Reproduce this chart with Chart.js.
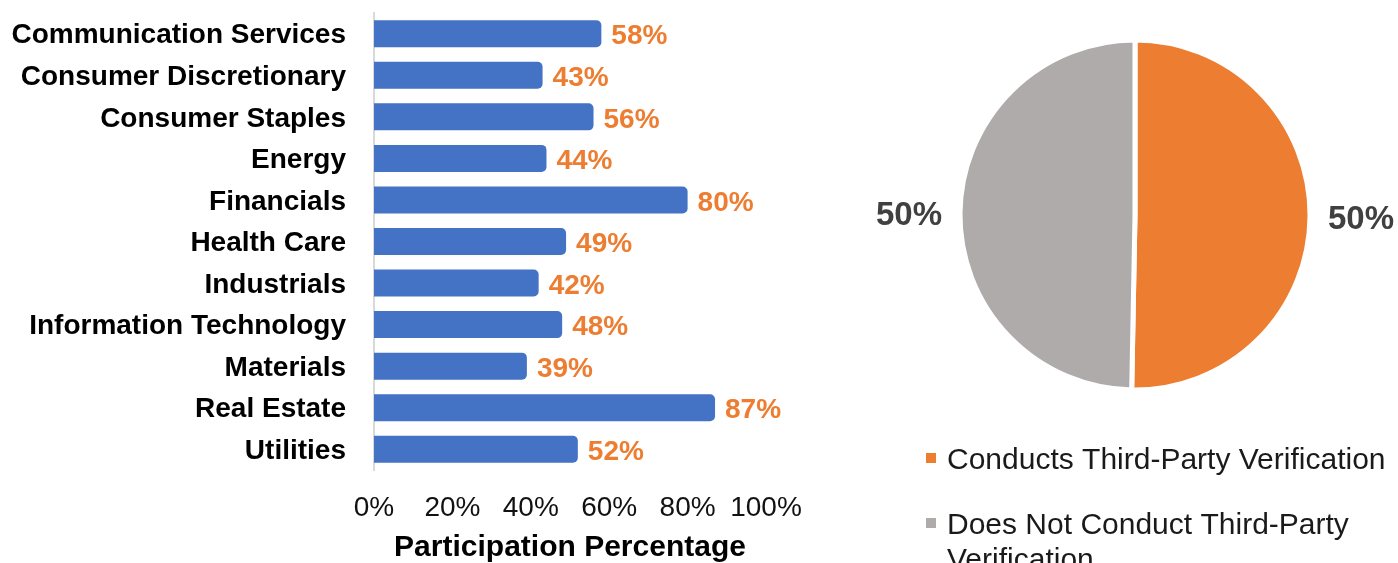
<!DOCTYPE html>
<html>
<head>
<meta charset="utf-8">
<script src="https://cdn.jsdelivr.net/npm/chart.js@4/dist/chart.umd.min.js"></script>
<style>
  html, body { margin: 0; padding: 0; background: #ffffff; overflow: hidden; }
  #barWrap { position: absolute; left: 0; top: 0; width: 850px; height: 563px; }
  #pieWrap { position: absolute; left: 850px; top: 0; width: 548px; height: 563px; }
</style>
</head>
<body>
<div id="barWrap"><canvas id="bar"></canvas></div>
<div id="pieWrap"><canvas id="pie"></canvas></div>
<script>
const sectors = ["Communication Services", "Consumer Discretionary", "Consumer Staples", "Energy",
  "Financials", "Health Care", "Industrials", "Information Technology", "Materials", "Real Estate", "Utilities"];
const participation = [58, 43, 56, 44, 80, 49, 42, 48, 39, 87, 52];
const xTickValues = [0, 20, 40, 60, 80, 100];
const xAxisTitle = "Participation Percentage";

const pieLabels = ["Conducts Third-Party Verification", "Does Not Conduct Third-Party Verification"];
const pieLegendLines = [["Conducts Third-Party Verification"], ["Does Not Conduct Third-Party", "Verification"]];
const pieValues = [50.3, 49.7];

const FONT = "'Liberation Sans', Arial, sans-serif";

const barLabelPlugin = {
  id: 'barLabels',
  afterDatasetsDraw(chart) {
    const ctx = chart.ctx;
    const meta = chart.getDatasetMeta(0);
    ctx.save();
    ctx.font = "bold 28px " + FONT;
    ctx.fillStyle = "#ED7D31";
    ctx.textAlign = "left";
    ctx.textBaseline = "middle";
    meta.data.forEach((bar, i) => {
      ctx.fillText(participation[i] + "%", bar.x + 10, bar.y + 3);
    });
    ctx.restore();
  }
};

new Chart(document.getElementById('bar'), {
  type: 'bar',
  data: {
    labels: sectors,
    datasets: [{
      data: participation,
      backgroundColor: "#4472C4",
      borderWidth: 0,
      borderRadius: 5,
      barPercentage: 0.65,
      categoryPercentage: 1.0
    }]
  },
  options: {
    indexAxis: 'y',
    responsive: true,
    maintainAspectRatio: false,
    animation: false,
    layout: { padding: { top: 13, right: 84, left: 0, bottom: 0 } },
    plugins: { legend: { display: false }, tooltip: { enabled: false } },
    scales: {
      x: {
        min: 0, max: 100,
        afterFit(scale) { scale.height = 93; },
        afterBuildTicks(scale) { scale.ticks = xTickValues.map(v => ({ value: v })); },
        grid: { display: false, drawTicks: false },
        border: { display: false },
        ticks: {
          padding: 21,
          color: "#111111",
          font: { family: FONT, size: 28 },
          callback: v => v + "%",
          maxRotation: 0, autoSkip: false
        },
        title: {
          display: true,
          text: xAxisTitle,
          color: "#000000",
          font: { family: FONT, size: 30, weight: 'bold' },
          padding: { top: 0, bottom: -3 }
        }
      },
      y: {
        afterFit(scale) { scale.width = 374; scale.paddingTop = 0; scale.paddingBottom = 0; },
        grid: { display: false, drawTicks: false },
        border: { display: true, color: "#D9D9D9", width: 2 },
        ticks: {
          padding: 28,
          labelOffset: 2,
          color: "#000000",
          font: { family: FONT, size: 28, weight: 'bold' },
          autoSkip: false
        }
      }
    }
  },
  plugins: [barLabelPlugin]
});

const pieExtrasPlugin = {
  id: 'pieExtras',
  afterDatasetsDraw(chart) {
    const ctx = chart.ctx;
    const meta = chart.getDatasetMeta(0);
    const total = pieValues.reduce((a, b) => a + b, 0);
    ctx.save();
    ctx.font = "bold 33px " + FONT;
    ctx.fillStyle = "#404040";
    ctx.textAlign = "center";
    ctx.textBaseline = "middle";
    meta.data.forEach((arc, i) => {
      const mid = (arc.startAngle + arc.endAngle) / 2;
      const r = 226;
      ctx.fillText(Math.round(pieValues[i] / total * 100) + "%", arc.x + r * Math.cos(mid), arc.y + r * Math.sin(mid) + 3);
    });
    // legend
    const colors = chart.data.datasets[0].backgroundColor;
    const baselines = [469, 534];
    ctx.font = "30px " + FONT;
    ctx.textAlign = "left";
    ctx.textBaseline = "alphabetic";
    pieLegendLines.forEach((lines, i) => {
      ctx.fillStyle = colors[i];
      ctx.fillRect(76, baselines[i] - 16, 10, 10);
      ctx.fillStyle = "#1A1A1A";
      lines.forEach((ln, j) => ctx.fillText(ln, 97, baselines[i] + j * 35));
    });
    ctx.restore();
  }
};

new Chart(document.getElementById('pie'), {
  type: 'pie',
  data: {
    labels: pieLabels,
    datasets: [{
      data: pieValues,
      backgroundColor: ["#ED7D31", "#AFABAB"],
      borderColor: "#FFFFFF",
      borderWidth: 5,
      radius: 175
    }]
  },
  options: {
    responsive: true,
    maintainAspectRatio: false,
    animation: false,
    layout: { padding: { left: 112, right: 90, top: 42, bottom: 175 } },
    plugins: { legend: { display: false }, tooltip: { enabled: false } }
  },
  plugins: [pieExtrasPlugin]
});
</script>
</body>
</html>
